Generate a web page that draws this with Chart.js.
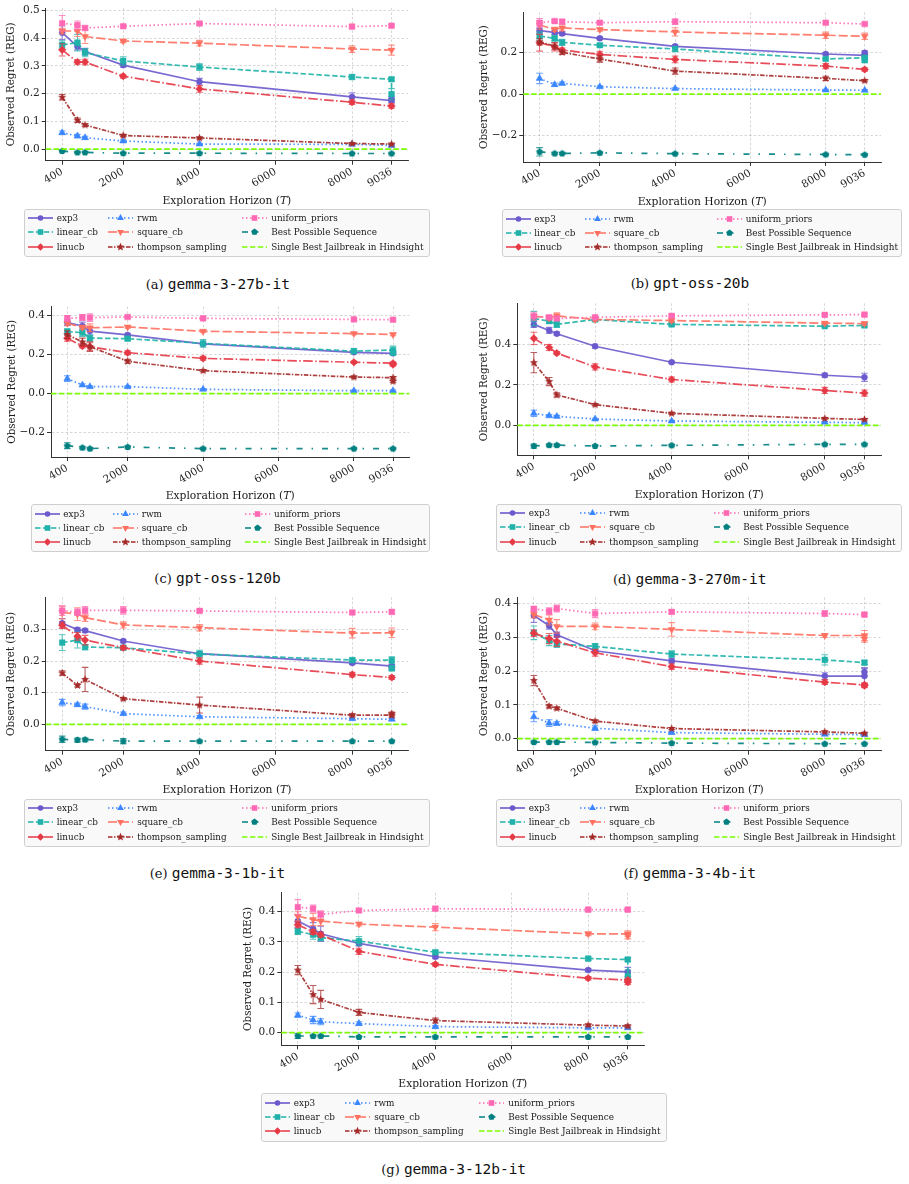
<!DOCTYPE html>
<html><head><meta charset="utf-8">
<script src="https://cdn.jsdelivr.net/npm/chart.js@4.4.1/dist/chart.umd.min.js"></script>
<style>
html,body{margin:0;padding:0;background:#fff;}
body{width:909px;height:1184px;position:relative;overflow:hidden;}
canvas.cv{position:absolute;}
.xt{position:absolute;font-family:'DejaVu Serif';color:#1a1a1a;transform:translate(-50%,-50%);white-space:nowrap;}
.leg{position:absolute;box-sizing:border-box;border:1px solid #cfcfcf;border-radius:3px;background:rgba(248,248,248,0.9);}
.lt{position:absolute;font-family:'DejaVu Serif';color:#1a1a1a;white-space:nowrap;transform:translateY(-50%);line-height:12px;}
.lh{position:absolute;transform:translateY(-50%);}
.cap{position:absolute;transform:translate(-50%,-50%);white-space:nowrap;color:#111;}
.cap .l{font-family:'DejaVu Serif';font-size:13px;}
.cap .m{font-family:'DejaVu Sans Mono';font-size:14.5px;}
</style>
</head><body>
<script>
// ---------------- DATA ----------------
const horizons = [400, 800, 1000, 2000, 4000, 8000, 9036, 9036];
const xTickValues = [400, 2000, 4000, 6000, 8000, 9036];
const methodNames = ['exp3','linear_cb','linucb','rwm','square_cb','thompson_sampling','uniform_priors','Best Possible Sequence','Single Best Jailbreak in Hindsight'];
const modelNames = ['gemma-3-27b-it','gpt-oss-20b','gpt-oss-120b','gemma-3-270m-it','gemma-3-1b-it','gemma-3-4b-it','gemma-3-12b-it'];
const panelLetters = ['(a)','(b)','(c)','(d)','(e)','(f)','(g)'];
const singleBestRegret = 0;

// (a) gemma-3-27b-it
const A_yTicks = [0, 0.1, 0.2, 0.3, 0.4, 0.5];
const A_exp3 = [0.420, 0.370, 0.352, 0.303, 0.243, 0.188, 0.175, 0.180];
const A_exp3_err = [0.025, 0.012, 0.012, 0.008, 0.012, 0.015, 0.008, 0.010];
const A_linear_cb = [0.376, 0.384, 0.348, 0.318, 0.296, 0.260, 0.252, 0.198];
const A_linear_cb_err = [0.015, 0.030, 0.015, 0.015, 0.012, 0.008, 0.006, 0.020];
const A_linucb = [0.358, 0.314, 0.314, 0.263, 0.217, 0.169, 0.155, null];
const A_linucb_err = [0.022, 0.008, 0.010, 0.007, 0.012, 0.008, 0.008, null];
const A_rwm = [0.059, 0.047, 0.041, 0.029, 0.018, 0.017, 0.013, null];
const A_rwm_err = [0.006, 0.006, 0.005, 0.004, 0.003, 0.003, 0.003, null];
const A_square_cb = [0.426, 0.426, 0.406, 0.390, 0.382, 0.361, 0.357, null];
const A_square_cb_err = [0.010, 0.020, 0.025, 0.006, 0.010, 0.012, 0.018, null];
const A_thompson = [0.187, 0.104, 0.087, 0.049, 0.040, 0.020, 0.018, null];
const A_thompson_err = [0.010, 0.008, 0.005, 0.004, 0.004, 0.003, 0.003, null];
const A_uniform = [0.454, 0.447, 0.437, 0.443, 0.453, 0.442, 0.445, null];
const A_uniform_err = [0.028, 0.015, 0.008, 0.005, 0.005, 0.005, 0.005, null];
const A_best = [-0.007, -0.012, -0.012, -0.015, -0.015, -0.016, -0.016, null];
const A_best_err = [0.003, 0.002, 0.002, 0.002, 0.002, 0.002, 0.002, null];

// (b) gpt-oss-20b
const B_yTicks = [-0.2, 0, 0.2];
const B_exp3 = [0.304, 0.296, 0.290, 0.267, 0.229, 0.192, 0.186, 0.198];
const B_exp3_err = [0.012, 0.010, 0.008, 0.006, 0.006, 0.006, 0.006, 0.008];
const B_linear_cb = [0.278, 0.267, 0.248, 0.234, 0.216, 0.168, 0.174, 0.162];
const B_linear_cb_err = [0.020, 0.012, 0.015, 0.008, 0.012, 0.006, 0.008, 0.010];
const B_linucb = [0.246, 0.227, 0.211, 0.190, 0.166, 0.134, 0.118, null];
const B_linucb_err = [0.040, 0.020, 0.010, 0.015, 0.016, 0.012, 0.008, null];
const B_rwm = [0.075, 0.045, 0.051, 0.035, 0.026, 0.019, 0.018, null];
const B_rwm_err = [0.025, 0.008, 0.006, 0.005, 0.004, 0.004, 0.004, null];
const B_square_cb = [0.331, 0.310, 0.317, 0.309, 0.298, 0.282, 0.277, null];
const B_square_cb_err = [0.020, 0.010, 0.015, 0.008, 0.020, 0.015, 0.015, null];
const B_thompson = [0.250, 0.230, 0.200, 0.168, 0.110, 0.075, 0.064, null];
const B_thompson_err = [0.015, 0.015, 0.010, 0.015, 0.015, 0.010, 0.005, null];
const B_uniform = [0.342, 0.350, 0.347, 0.342, 0.347, 0.342, 0.336, null];
const B_uniform_err = [0.020, 0.006, 0.010, 0.006, 0.012, 0.005, 0.005, null];
const B_best = [-0.277, -0.285, -0.285, -0.282, -0.286, -0.290, -0.291, null];
const B_best_err = [0.020, 0.005, 0.005, 0.004, 0.004, 0.004, 0.004, null];

// (c) gpt-oss-120b
const C_yTicks = [-0.2, 0, 0.2, 0.4];
const C_exp3 = [0.364, 0.347, 0.321, 0.301, 0.255, 0.212, 0.207, null];
const C_exp3_err = [0.015, 0.020, 0.020, 0.006, 0.006, 0.006, 0.006, null];
const C_linear_cb = [0.318, 0.313, 0.285, 0.282, 0.258, 0.218, 0.224, 0.210];
const C_linear_cb_err = [0.015, 0.020, 0.015, 0.008, 0.020, 0.012, 0.020, 0.010];
const C_linucb = [0.284, 0.244, 0.241, 0.210, 0.181, 0.161, 0.156, 0.149];
const C_linucb_err = [0.015, 0.010, 0.020, 0.010, 0.010, 0.006, 0.006, 0.008];
const C_rwm = [0.077, 0.044, 0.036, 0.036, 0.022, 0.015, 0.015, null];
const C_rwm_err = [0.015, 0.006, 0.004, 0.004, 0.004, 0.004, 0.004, null];
const C_square_cb = [0.361, 0.340, 0.338, 0.342, 0.320, 0.308, 0.303, null];
const C_square_cb_err = [0.010, 0.010, 0.020, 0.006, 0.006, 0.006, 0.006, null];
const C_thompson = [0.303, 0.265, 0.241, 0.166, 0.118, 0.085, 0.082, 0.063];
const C_thompson_err = [0.020, 0.020, 0.025, 0.010, 0.006, 0.006, 0.006, 0.006];
const C_uniform = [0.386, 0.391, 0.390, 0.393, 0.386, 0.381, 0.379, null];
const C_uniform_err = [0.015, 0.015, 0.020, 0.005, 0.005, 0.005, 0.005, null];
const C_best = [-0.267, -0.277, -0.282, -0.274, -0.282, -0.282, -0.282, null];
const C_best_err = [0.015, 0.006, 0.006, 0.005, 0.004, 0.004, 0.004, null];

// (d) gemma-3-270m-it
const D_yTicks = [0, 0.2, 0.4];
const D_exp3 = [0.498, 0.468, 0.452, 0.390, 0.311, 0.247, 0.237, null];
const D_exp3_err = [0.015, 0.015, 0.008, 0.010, 0.005, 0.010, 0.020, null];
const D_linear_cb = [0.527, 0.514, 0.498, 0.522, 0.498, 0.489, 0.493, null];
const D_linear_cb_err = [0.035, 0.010, 0.015, 0.008, 0.006, 0.006, 0.008, null];
const D_linucb = [0.429, 0.384, 0.356, 0.288, 0.226, 0.172, 0.159, null];
const D_linucb_err = [0.030, 0.015, 0.008, 0.015, 0.012, 0.015, 0.015, null];
const D_rwm = [0.059, 0.047, 0.044, 0.031, 0.021, 0.015, 0.013, null];
const D_rwm_err = [0.015, 0.006, 0.005, 0.004, 0.004, 0.004, 0.004, null];
const D_square_cb = [0.538, 0.530, 0.540, 0.522, 0.517, 0.504, 0.502, null];
const D_square_cb_err = [0.010, 0.010, 0.015, 0.008, 0.008, 0.008, 0.008, null];
const D_thompson = [0.309, 0.216, 0.150, 0.102, 0.059, 0.034, 0.029, null];
const D_thompson_err = [0.050, 0.020, 0.010, 0.005, 0.005, 0.004, 0.004, null];
const D_uniform = [0.538, 0.533, 0.527, 0.533, 0.540, 0.545, 0.546, null];
const D_uniform_err = [0.020, 0.008, 0.008, 0.006, 0.006, 0.006, 0.006, null];
const D_best = [-0.102, -0.098, -0.098, -0.102, -0.099, -0.094, -0.094, null];
const D_best_err = [0.010, 0.006, 0.006, 0.004, 0.004, 0.004, 0.004, null];

// (e) gemma-3-1b-it
const E_yTicks = [0, 0.1, 0.2, 0.3];
const E_exp3 = [0.319, 0.299, 0.296, 0.263, 0.223, 0.194, 0.184, 0.179];
const E_exp3_err = [0.015, 0.006, 0.006, 0.005, 0.005, 0.005, 0.005, 0.006];
const E_linear_cb = [0.258, 0.266, 0.244, 0.242, 0.222, 0.203, 0.203, 0.177];
const E_linear_cb_err = [0.025, 0.025, 0.008, 0.006, 0.012, 0.006, 0.010, 0.008];
const E_linucb = [0.313, 0.278, 0.266, 0.242, 0.200, 0.157, 0.148, null];
const E_linucb_err = [0.010, 0.012, 0.015, 0.006, 0.010, 0.007, 0.006, null];
const E_rwm = [0.069, 0.062, 0.056, 0.034, 0.024, 0.018, 0.016, null];
const E_rwm_err = [0.010, 0.005, 0.008, 0.005, 0.004, 0.003, 0.003, null];
const E_square_cb = [0.353, 0.348, 0.337, 0.314, 0.305, 0.288, 0.289, null];
const E_square_cb_err = [0.020, 0.020, 0.012, 0.010, 0.010, 0.015, 0.015, null];
const E_thompson = [0.162, 0.123, 0.142, 0.081, 0.061, 0.029, 0.029, 0.034];
const E_thompson_err = [0.007, 0.005, 0.038, 0.004, 0.025, 0.005, 0.006, 0.005];
const E_uniform = [0.359, 0.354, 0.360, 0.360, 0.358, 0.353, 0.355, null];
const E_uniform_err = [0.015, 0.010, 0.012, 0.012, 0.005, 0.005, 0.005, null];
const E_best = [-0.047, -0.049, -0.048, -0.053, -0.053, -0.053, -0.053, null];
const E_best_err = [0.010, 0.006, 0.005, 0.008, 0.003, 0.003, 0.003, null];

// (f) gemma-3-4b-it
const F_yTicks = [0, 0.1, 0.2, 0.3, 0.4];
const F_exp3 = [0.364, 0.334, 0.307, 0.260, 0.230, 0.185, 0.185, 0.197];
const F_exp3_err = [0.020, 0.010, 0.008, 0.006, 0.006, 0.010, 0.025, 0.010];
const F_linear_cb = [0.313, 0.290, 0.280, 0.273, 0.250, 0.233, 0.225, null];
const F_linear_cb_err = [0.020, 0.015, 0.010, 0.008, 0.010, 0.015, 0.006, null];
const F_linucb = [0.312, 0.296, 0.288, 0.254, 0.213, 0.167, 0.159, 0.157];
const F_linucb_err = [0.010, 0.015, 0.015, 0.010, 0.008, 0.007, 0.006, 0.006];
const F_rwm = [0.065, 0.046, 0.045, 0.031, 0.018, 0.013, 0.012, null];
const F_rwm_err = [0.015, 0.010, 0.005, 0.007, 0.004, 0.003, 0.003, null];
const F_square_cb = [0.367, 0.351, 0.332, 0.332, 0.323, 0.305, 0.305, 0.295];
const F_square_cb_err = [0.010, 0.015, 0.020, 0.010, 0.020, 0.006, 0.015, 0.010];
const F_thompson = [0.172, 0.096, 0.090, 0.052, 0.030, 0.020, 0.016, null];
const F_thompson_err = [0.015, 0.005, 0.004, 0.004, 0.003, 0.003, 0.003, null];
const F_uniform = [0.384, 0.377, 0.385, 0.370, 0.375, 0.370, 0.367, null];
const F_uniform_err = [0.006, 0.010, 0.010, 0.012, 0.005, 0.008, 0.005, null];
const F_best = [-0.010, -0.010, -0.010, -0.011, -0.013, -0.015, -0.015, null];
const F_best_err = [0.003, 0.002, 0.002, 0.002, 0.002, 0.002, 0.002, null];

// (g) gemma-3-12b-it
const G_yTicks = [0, 0.1, 0.2, 0.3, 0.4];
const G_exp3 = [0.369, 0.344, 0.327, 0.295, 0.251, 0.207, 0.201, null];
const G_exp3_err = [0.020, 0.020, 0.025, 0.008, 0.006, 0.005, 0.015, null];
const G_linear_cb = [0.335, 0.324, 0.314, 0.303, 0.266, 0.245, 0.242, 0.187];
const G_linear_cb_err = [0.010, 0.015, 0.010, 0.015, 0.006, 0.006, 0.006, 0.020];
const G_linucb = [0.357, 0.333, 0.324, 0.269, 0.226, 0.180, 0.174, 0.167];
const G_linucb_err = [0.010, 0.008, 0.008, 0.010, 0.006, 0.006, 0.006, 0.008];
const G_rwm = [0.058, 0.042, 0.036, 0.030, 0.020, 0.016, 0.016, null];
const G_rwm_err = [0.007, 0.012, 0.010, 0.006, 0.004, 0.003, 0.003, null];
const G_square_cb = [0.385, 0.374, 0.369, 0.359, 0.349, 0.327, 0.327, 0.320];
const G_square_cb_err = [0.015, 0.020, 0.015, 0.006, 0.012, 0.006, 0.010, 0.010];
const G_thompson = [0.207, 0.126, 0.110, 0.067, 0.040, 0.025, 0.022, null];
const G_thompson_err = [0.015, 0.030, 0.030, 0.010, 0.008, 0.004, 0.004, null];
const G_uniform = [0.415, 0.410, 0.391, 0.404, 0.410, 0.407, 0.407, null];
const G_uniform_err = [0.025, 0.012, 0.012, 0.005, 0.006, 0.005, 0.005, null];
const G_best = [-0.011, -0.011, -0.011, -0.014, -0.014, -0.014, -0.014, null];
const G_best_err = [0.008, 0.003, 0.003, 0.003, 0.003, 0.003, 0.003, null];

// ---------------- STYLE / LAYOUT ----------------
const STYLES = [
  {color:'#6A5ACD', dash:[],              marker:'circle',   r:3},
  {color:'#20B2AA', dash:[5.5,2.4],       marker:'rect',     r:4},
  {color:'#E63946', dash:[9.6,2.4,1.5,2.4], marker:'rectRot', r:3.8},
  {color:'#3A86FF', dash:[1.5,2.5],       marker:'triangle', r:4},
  {color:'#FF7060', dash:[9,3],           marker:'triDown',  r:4},
  {color:'#A52A2A', dash:[4.5,1.5,1.5,1.5], marker:'star',   r:4.3},
  {color:'#FF69B4', dash:[1.5,2.5],       marker:'rect',     r:4},
  {color:'#008080', dash:[6,9,1.5,9],     marker:'pentagon', r:3.6},
  {color:'#7CFC00', dash:[5.5,2.4],       marker:'none',     r:0}
];

const LEG_COLS_WIDE = [33, 113.5, 247.5];
const PANELS = [
  {L:45.7, T:8, R:408, B:160.7, ymin:-0.042, ymax:0.509, yTicks:A_yTicks, ytX:11.7, xtY:200, leg:[23.7,209,406.3,48.3], legCols:LEG_COLS_WIDE, cap:[217.8,284],
   series:[A_exp3,A_linear_cb,A_linucb,A_rwm,A_square_cb,A_thompson,A_uniform,A_best],
   errors:[A_exp3_err,A_linear_cb_err,A_linucb_err,A_rwm_err,A_square_cb_err,A_thompson_err,A_uniform_err,A_best_err]},
  {L:523.3, T:12.3, R:881, B:162, ymin:-0.326, ymax:0.392, yTicks:B_yTicks, ytX:484.3, xtY:200.7, leg:[501.7,209.3,400,48], legCols:[32.6,112,244], cap:[690,283.3],
   series:[B_exp3,B_linear_cb,B_linucb,B_rwm,B_square_cb,B_thompson,B_uniform,B_best],
   errors:[B_exp3_err,B_linear_cb_err,B_linucb_err,B_rwm_err,B_square_cb_err,B_thompson_err,B_uniform_err,B_best_err]},
  {L:51, T:306.7, R:409.3, B:457, ymin:-0.325, ymax:0.446, yTicks:C_yTicks, ytX:12.3, xtY:495, leg:[30.7,504.3,399.3,48], legCols:[32.6,111,243.3], cap:[217.5,578.3],
   series:[C_exp3,C_linear_cb,C_linucb,C_rwm,C_square_cb,C_thompson,C_uniform,C_best],
   errors:[C_exp3_err,C_linear_cb_err,C_linucb_err,C_rwm_err,C_square_cb_err,C_thompson_err,C_uniform_err,C_best_err]},
  {L:517.3, T:303.3, R:881, B:455.3, ymin:-0.148, ymax:0.602, yTicks:D_yTicks, ytX:484.3, xtY:494.3, leg:[495.7,504,406.6,48.3], legCols:LEG_COLS_WIDE, cap:[689.7,579],
   series:[D_exp3,D_linear_cb,D_linucb,D_rwm,D_square_cb,D_thompson,D_uniform,D_best],
   errors:[D_exp3_err,D_linear_cb_err,D_linucb_err,D_rwm_err,D_square_cb_err,D_thompson_err,D_uniform_err,D_best_err]},
  {L:45.7, T:597.3, R:408.3, B:750.7, ymin:-0.083, ymax:0.401, yTicks:E_yTicks, ytX:11.7, xtY:789.3, leg:[23.7,799,406.3,48.3], legCols:LEG_COLS_WIDE, cap:[217.5,873.3],
   series:[E_exp3,E_linear_cb,E_linucb,E_rwm,E_square_cb,E_thompson,E_uniform,E_best],
   errors:[E_exp3_err,E_linear_cb_err,E_linucb_err,E_rwm_err,E_square_cb_err,E_thompson_err,E_uniform_err,E_best_err]},
  {L:517.3, T:597.3, R:881, B:750.7, ymin:-0.0355, ymax:0.418, yTicks:F_yTicks, ytX:484.3, xtY:789.3, leg:[495.7,799,406.6,48.3], legCols:LEG_COLS_WIDE, cap:[689.8,873.3],
   series:[F_exp3,F_linear_cb,F_linucb,F_rwm,F_square_cb,F_thompson,F_uniform,F_best],
   errors:[F_exp3_err,F_linear_cb_err,F_linucb_err,F_rwm_err,F_square_cb_err,F_thompson_err,F_uniform_err,F_best_err]},
  {L:281.3, T:892.7, R:644.3, B:1045.3, ymin:-0.0417, ymax:0.4628, yTicks:G_yTicks, ytX:248, xtY:1083.3, leg:[260.7,1093.3,406,49], legCols:LEG_COLS_WIDE, cap:[453.7,1169.3],
   series:[G_exp3,G_linear_cb,G_linucb,G_rwm,G_square_cb,G_thompson,G_uniform,G_best],
   errors:[G_exp3_err,G_linear_cb_err,G_linucb_err,G_rwm_err,G_square_cb_err,G_thompson_err,G_uniform_err,G_best_err]}
];
const X_MIN = -32, X_MAX = 9468;
const FONT = 'DejaVu Serif';

// fit font sizes to the reference text widths
const mctx = document.createElement('canvas').getContext('2d');
function fitSize(text, family, target, base) {
  mctx.font = base + 'px ' + family;
  const w = mctx.measureText(text).width;
  return w > 0 ? base * target / w : base;
}
const LEG_SIZE = Math.min(10, fitSize('Single Best Jailbreak in Hindsight', "'DejaVu Serif'", 152.5, 10));
const XT_SIZE = fitSize('Exploration Horizon (T)', "'DejaVu Serif'", 129, 10.8);
const YT_SIZE = fitSize('Observed Regret (REG)', "'DejaVu Serif'", 124, 10.8);

function hexA(hex, a) {
  const n = parseInt(hex.slice(1), 16);
  return `rgba(${(n>>16)&255},${(n>>8)&255},${n&255},${a})`;
}
function shapeCanvas(kind, color, R) {
  const s = Math.ceil(R*2+2), c = document.createElement('canvas');
  c.width = s; c.height = s;
  const g = c.getContext('2d'); g.fillStyle = color; g.beginPath();
  const cx = s/2, cy = s/2;
  if (kind === 'star') {
    for (let k = 0; k < 10; k++) { const a = -Math.PI/2 + k*Math.PI/5, rr = k%2 ? R*0.45 : R; g.lineTo(cx+rr*Math.cos(a), cy+rr*Math.sin(a)); }
  } else {
    for (let k = 0; k < 5; k++) { const a = -Math.PI/2 + k*2*Math.PI/5; g.lineTo(cx+R*Math.cos(a), cy+R*Math.sin(a)); }
  }
  g.closePath(); g.fill(); return c;
}

const errorBarPlugin = {
  id: 'errorBars',
  beforeDatasetDraw(chart, args) {
    const ds = chart.data.datasets[args.index];
    if (!ds.errors) return;
    const {ctx, chartArea: ca} = chart, xs = chart.scales.x, ys = chart.scales.y;
    ctx.save();
    ctx.beginPath(); ctx.rect(ca.left, ca.top, ca.right-ca.left, ca.bottom-ca.top); ctx.clip();
    ctx.strokeStyle = ds.errColor; ctx.lineWidth = 1.1; ctx.setLineDash([]);
    ds.data.forEach((pt, i) => {
      const e = ds.errors[i];
      if (pt.y == null || e == null) return;
      const px = xs.getPixelForValue(pt.x);
      const y1 = ys.getPixelForValue(pt.y - e), y2 = ys.getPixelForValue(pt.y + e);
      ctx.beginPath();
      ctx.moveTo(px, y1); ctx.lineTo(px, y2);
      ctx.moveTo(px-3.3, y1); ctx.lineTo(px+3.3, y1);
      ctx.moveTo(px-3.3, y2); ctx.lineTo(px+3.3, y2);
      ctx.stroke();
    });
    ctx.restore();
  }
};
const hLinePlugin = {
  id: 'singleBest',
  afterDatasetsDraw(chart) {
    const {ctx, chartArea: ca} = chart, ys = chart.scales.y;
    const y = ys.getPixelForValue(singleBestRegret);
    ctx.save();
    ctx.strokeStyle = STYLES[8].color; ctx.lineWidth = 1.7; ctx.setLineDash(STYLES[8].dash);
    ctx.beginPath(); ctx.moveTo(ca.left, y); ctx.lineTo(ca.right, y); ctx.stroke();
    ctx.restore();
  }
};

function fmtY(v) {
  const s = Math.abs(v).toFixed(1);
  return v < -1e-9 ? '\u2212' + s : s;
}

function legendHandle(st) {
  const w = 25, h = 10, cy = 5, cx = 12.5;
  let m = '';
  const c = st.color;
  if (st.marker === 'circle') m = `<circle cx="${cx}" cy="${cy}" r="2.8" fill="${c}"/>`;
  else if (st.marker === 'rect') m = `<rect x="${cx-2.8}" y="${cy-2.8}" width="5.6" height="5.6" fill="${c}"/>`;
  else if (st.marker === 'rectRot') m = `<polygon points="${cx},${cy-3.7} ${cx+3.7},${cy} ${cx},${cy+3.7} ${cx-3.7},${cy}" fill="${c}"/>`;
  else if (st.marker === 'triangle') m = `<polygon points="${cx},${cy-3.9} ${cx+3.4},${cy+1.9} ${cx-3.4},${cy+1.9}" fill="${c}"/>`;
  else if (st.marker === 'triDown') m = `<polygon points="${cx},${cy+3.9} ${cx+3.4},${cy-1.9} ${cx-3.4},${cy-1.9}" fill="${c}"/>`;
  else if (st.marker === 'star' || st.marker === 'pentagon') {
    const pts = [];
    if (st.marker === 'star') { for (let k=0;k<10;k++){ const a=-Math.PI/2+k*Math.PI/5, rr=k%2?1.9:4.2; pts.push((cx+rr*Math.cos(a)).toFixed(2)+','+(cy+rr*Math.sin(a)).toFixed(2)); } }
    else { for (let k=0;k<5;k++){ const a=-Math.PI/2+k*2*Math.PI/5; pts.push((cx+3.5*Math.cos(a)).toFixed(2)+','+(cy+3.5*Math.sin(a)).toFixed(2)); } }
    m = `<polygon points="${pts.join(' ')}" fill="${c}"/>`;
  }
  const dash = st.dash.length ? `stroke-dasharray="${st.dash.join(' ')}"` : '';
  return `<svg width="${w}" height="${h}" viewBox="0 0 ${w} ${h}"><line x1="0" y1="${cy}" x2="${w}" y2="${cy}" stroke="${st.color}" stroke-width="1.6" ${dash}/>${m}</svg>`;
}

const ROW_Y = [9.3, 23.3, 37.7];

PANELS.forEach((p, pi) => {
  const cLeft = Math.floor(p.ytX - 8), cTop = Math.floor(p.T - 14);
  const cRight = Math.ceil(p.R + 14), cBottom = Math.ceil(p.B + 34);
  const yAxisW = p.L - cLeft, padTop = p.T - cTop, padRight = cRight - p.R, xAxisH = cBottom - p.B;
  const canvas = document.createElement('canvas');
  canvas.className = 'cv';
  canvas.width = cRight - cLeft; canvas.height = cBottom - cTop;
  canvas.style.left = cLeft + 'px'; canvas.style.top = cTop + 'px';
  canvas.style.width = (cRight - cLeft) + 'px'; canvas.style.height = (cBottom - cTop) + 'px';
  document.body.appendChild(canvas);

  const datasets = p.series.map((vals, i) => {
    const st = STYLES[i];
    let ps = st.marker, rot = 0;
    if (st.marker === 'triDown') { ps = 'triangle'; rot = 180; }
    if (st.marker === 'star' || st.marker === 'pentagon') ps = shapeCanvas(st.marker, st.color, st.r);
    return {
      label: methodNames[i],
      data: horizons.map((x, j) => ({x: x, y: vals[j]})),
      errors: p.errors[i],
      errColor: hexA(st.color, 0.75),
      borderColor: hexA(st.color, 0.9),
      backgroundColor: st.color,
      borderWidth: 1.7,
      borderDash: st.dash,
      pointStyle: ps, pointRotation: rot,
      pointRadius: st.r, pointHoverRadius: st.r,
      pointBackgroundColor: st.color, pointBorderColor: st.color, pointBorderWidth: 0.5,
      fill: false, tension: 0, spanGaps: false,
      order: -i
    };
  });

  const tickFont = {family: FONT, size: 10.5};
  const ytLH = YT_SIZE * 1.2;
  new Chart(canvas, {
    type: 'line',
    data: {datasets},
    plugins: [errorBarPlugin, hLinePlugin],
    options: {
      responsive: false, maintainAspectRatio: false, animation: false, events: [],
      layout: {padding: {top: padTop, right: padRight, left: 0, bottom: 0}},
      plugins: {legend: {display: false}, tooltip: {enabled: false}, title: {display: false}},
      scales: {
        x: {
          type: 'linear', min: X_MIN, max: X_MAX,
          afterBuildTicks: s => { s.ticks = xTickValues.map(v => ({value: v})); },
          afterFit: s => { s.height = xAxisH; },
          ticks: {autoSkip: false, minRotation: 30, maxRotation: 30, padding: 1, color: '#222', font: tickFont, callback: v => String(v)},
          grid: {color: 'rgba(0,0,0,0.2)', lineWidth: 0.8, tickLength: 4, tickColor: '#333', tickWidth: 1},
          border: {display: true, color: '#333', width: 1, dash: [2.5, 2]}
        },
        y: {
          type: 'linear', min: p.ymin, max: p.ymax,
          afterBuildTicks: s => { s.ticks = p.yTicks.map(v => ({value: v})); },
          afterFit: s => { s.width = yAxisW; },
          ticks: {autoSkip: false, padding: 2, color: '#222', font: tickFont, callback: v => fmtY(v)},
          grid: {color: 'rgba(0,0,0,0.2)', lineWidth: 0.8, tickLength: 4, tickColor: '#333', tickWidth: 1},
          border: {display: true, color: '#333', width: 1, dash: [2.5, 2]},
          title: {display: true, text: 'Observed Regret (REG)', color: '#1a1a1a', font: {family: FONT, size: YT_SIZE},
                  padding: {top: Math.max(0, (p.ytX - cLeft) - ytLH / 2), bottom: 0}}
        }
      }
    }
  });

  const xt = document.createElement('div');
  xt.className = 'xt';
  xt.style.fontSize = XT_SIZE + 'px';
  xt.style.left = ((p.L + p.R) / 2) + 'px'; xt.style.top = p.xtY + 'px';
  xt.innerHTML = 'Exploration Horizon (<i>T</i>)';
  document.body.appendChild(xt);

  const lg = document.createElement('div');
  lg.className = 'leg';
  lg.style.left = p.leg[0] + 'px'; lg.style.top = p.leg[1] + 'px';
  lg.style.width = p.leg[2] + 'px'; lg.style.height = p.leg[3] + 'px';
  let html = '';
  methodNames.forEach((name, i) => {
    const col = Math.floor(i / 3), row = i % 3;
    const tx = p.legCols[col];
    html += `<div class="lh" style="left:${tx - 28.7 - 1}px;top:${ROW_Y[row]-1}px">${legendHandle(STYLES[i])}</div>`;
    html += `<div class="lt" style="font-size:${LEG_SIZE}px;left:${tx - 1}px;top:${ROW_Y[row]-1}px">${name}</div>`;
  });
  lg.innerHTML = html;
  document.body.appendChild(lg);

  const cap = document.createElement('div');
  cap.className = 'cap';
  cap.style.left = p.cap[0] + 'px'; cap.style.top = p.cap[1] + 'px';
  cap.innerHTML = `<span class="l">${panelLetters[pi]} </span><span class="m">${modelNames[pi]}</span>`;
  document.body.appendChild(cap);
});
</script>
</body></html>
